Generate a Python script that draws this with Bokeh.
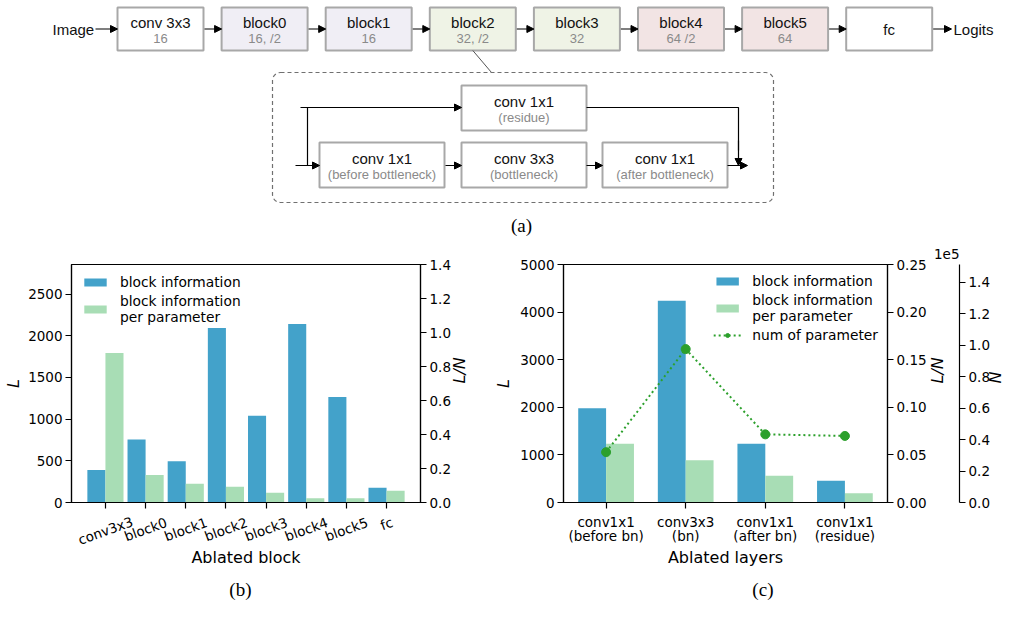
import math
from bokeh.plotting import figure
from bokeh.models import (Range1d, LinearAxis, FixedTicker, PrintfTickFormatter,
                          CustomJSTickFormatter, Legend, LegendItem, Arrow,
                          NormalHead, BoxAnnotation, ColumnDataSource)
from bokeh.layouts import column, row
from bokeh.embed import file_html
from bokeh.resources import INLINE
from bokeh.core.properties import value

# ---------------- data ----------------
diagram_titles = ["conv 3x3", "block0", "block1", "block2", "block3", "block4", "block5", "fc"]
diagram_subs = ["16", "16, /2", "16", "32, /2", "32", "64 /2", "64", ""]
diagram_fills = ["#ffffff", "#f0eef5", "#f0eef5", "#eff3e6", "#eff3e6", "#f2e4e4", "#f2e4e4", "#ffffff"]
inner_titles = ["conv 1x1", "conv 3x3", "conv 1x1", "conv 1x1"]
inner_subs = ["(before bottleneck)", "(bottleneck)", "(after bottleneck)", "(residue)"]

blocks = ["conv3x3", "block0", "block1", "block2", "block3", "block4", "block5", "fc"]
block_info = [390, 756, 496, 2092, 1040, 2140, 1265, 177]
block_info_per_param = [0.88, 0.162, 0.110, 0.092, 0.058, 0.025, 0.025, 0.069]

layer_names = ["conv1x1", "conv3x3", "conv1x1", "conv1x1"]
layer_notes = ["(before bn)", "(bn)", "(after bn)", "(residue)"]
layer_info = [1980, 4236, 1236, 457]
layer_info_per_param = [0.0618, 0.0444, 0.0281, 0.0098]
layer_num_params = [32000, 97500, 43300, 42300]

BLUE = "#43a2ca"
GREEN = "#a8ddb5"
DOT = "#2ca02c"
TICK_FONT = "DejaVu Sans"
TICK_SIZE = "13.5px"
LEG_SIZE = "13.8px"
SANS = value("Liberation Sans")
SERIF = value("Liberation Serif")

# ---------------- diagram (a) ----------------
diag = figure(width=1017, height=236, x_range=Range1d(0, 1017), y_range=Range1d(236, 0),
              toolbar_location=None, output_backend="svg", min_border=0,
              x_axis_location=None, y_axis_location=None, outline_line_color=None)
diag.grid.visible = False

BW, BH, PITCH, X0, TOP = 86, 43, 104.1, 117, 7
lefts = [X0 + i * PITCH for i in range(len(diagram_titles))]
diag.quad(left=lefts, right=[l + BW for l in lefts], top=[TOP] * len(lefts),
          bottom=[TOP + BH] * len(lefts), fill_color=diagram_fills,
          line_color="#a8a8a8", line_width=2)
cx = [l + BW / 2 for l in lefts]
with_sub = [i for i, s in enumerate(diagram_subs) if s]
no_sub = [i for i, s in enumerate(diagram_subs) if not s]
diag.text(x=[cx[i] for i in with_sub], y=[TOP + 15] * len(with_sub),
          text=[diagram_titles[i] for i in with_sub], text_font=SANS,
          text_font_size="15px", text_align="center", text_baseline="middle",
          text_color="#111111")
diag.text(x=[cx[i] for i in with_sub], y=[TOP + 31] * len(with_sub),
          text=[diagram_subs[i] for i in with_sub], text_font=SANS,
          text_font_size="13px", text_align="center", text_baseline="middle",
          text_color="#8a8a8a")
diag.text(x=[cx[i] for i in no_sub], y=[TOP + BH / 2] * len(no_sub),
          text=[diagram_titles[i] for i in no_sub], text_font=SANS,
          text_font_size="15px", text_align="center", text_baseline="middle",
          text_color="#111111")
MIDY = TOP + BH / 2
diag.text(x=[52], y=[MIDY], text=["Image"], text_font=SANS,
          text_font_size="15px", text_align="left", text_baseline="middle", text_color="#111111")
diag.text(x=[953], y=[MIDY], text=["Logits"], text_font=SANS,
          text_font_size="15px", text_align="left", text_baseline="middle", text_color="#111111")

ax0 = [95] + [l + BW + 1 for l in lefts]
ax1 = lefts + [951]
head = dict(size=7, line_color="black", fill_color="black", line_width=1)
diag.add_layout(Arrow(end=NormalHead(**head), line_width=1.2, line_color="black",
                      source=ColumnDataSource(dict(x0=ax0, x1=ax1, y0=[MIDY] * len(ax0), y1=[MIDY] * len(ax0))),
                      x_start="x0", y_start="y0", x_end="x1", y_end="y1"))

diag.line(x=[lefts[3] + 43, 491], y=[TOP + BH, 72], line_color="#555555", line_width=1)
diag.add_layout(BoxAnnotation(left=272, right=773, top=72, bottom=202, fill_alpha=0,
                              line_color="#707070", line_alpha=1.0, line_dash="4 3", line_width=1.2,
                              border_radius=8))

IW, IH = 125, 45
inner_left = [319, 461, 602, 461]
inner_top = [142, 142, 142, 85]
diag.quad(left=inner_left, right=[l + IW for l in inner_left], top=inner_top,
          bottom=[t + IH for t in inner_top], fill_color="#ffffff", line_color="#a8a8a8", line_width=2)
icx = [l + IW / 2 for l in inner_left]
diag.text(x=icx, y=[t + 16 for t in inner_top], text=inner_titles, text_font=SANS,
          text_font_size="15px", text_align="center", text_baseline="middle", text_color="#111111")
diag.text(x=icx, y=[t + 32 for t in inner_top], text=inner_subs, text_font=SANS,
          text_font_size="13px", text_align="center", text_baseline="middle", text_color="#8a8a8a")
RY = 107
MY = 165
diag.multi_line(xs=[[307, 307, 440], [586, 738, 738]], ys=[[MY, RY, RY], [RY, RY, 150]],
                line_color="black", line_width=1.2)
ia0 = [295, 445, 586, 727, 300, 738]
ia1 = [319, 461, 602, 747, 461, 738]
iy0 = [MY, MY, MY, MY, RY, 140]
iy1 = [MY, MY, MY, MY, RY, MY]
diag.add_layout(Arrow(end=NormalHead(**head), line_width=1.2, line_color="black",
                      source=ColumnDataSource(dict(x0=ia0, x1=ia1, y0=iy0, y1=iy1)),
                      x_start="x0", y_start="y0", x_end="x1", y_end="y1"))
diag.text(x=[521], y=[225], text=["(a)"], text_font=SERIF,
          text_font_size="19px", text_align="center", text_baseline="middle", text_color="black")


def style_axis(ax, label=""):
    ax.axis_line_color = "black"
    ax.axis_line_width = 1.2
    ax.major_tick_line_color = "black"
    ax.major_tick_line_width = 1.2
    ax.major_tick_out = 6
    ax.major_tick_in = 0
    ax.minor_tick_line_color = None
    ax.major_label_text_font = TICK_FONT
    ax.major_label_text_font_size = TICK_SIZE
    ax.major_label_text_color = "black"
    ax.major_label_standoff = 3
    ax.axis_label = label
    ax.axis_label_text_font = TICK_FONT
    ax.axis_label_text_font_size = "16px"
    ax.axis_label_text_font_style = "italic"
    ax.axis_label_text_color = "black"


def flip_label(ax):
    try:
        ax.axis_label_orientation = math.pi / 2
    except Exception:
        pass


CH = 276            # chart figure height
UH = 89             # under-figure (tick labels, axis title, caption) height
MB_TOP, MB_BOT = 28, 10


def base_fig(width, xr, yr, ml, mr):
    p = figure(width=width, height=CH, x_range=xr, y_range=yr, toolbar_location=None,
               output_backend="svg", min_border_left=ml, min_border_right=mr,
               min_border_top=MB_TOP, min_border_bottom=MB_BOT)
    p.grid.visible = False
    p.outline_line_color = "black"
    p.outline_line_width = 1.2
    xa = p.xaxis[0]
    style_axis(xa)
    xa.formatter = CustomJSTickFormatter(code="return ''")
    xa.major_label_text_font_size = "0px"
    xa.major_label_standoff = 0
    return p


def under_fig(width, xr, ml, mr):
    u = figure(width=width, height=UH, x_range=xr, y_range=Range1d(-(UH + MB_BOT), -MB_BOT),
               toolbar_location=None, output_backend="svg", min_border_left=ml,
               min_border_right=mr, min_border_top=0, min_border_bottom=0,
               x_axis_location=None, y_axis_location=None, outline_line_color=None)
    u.grid.visible = False
    return u


def legend_for(p, items, loc, margin, padding):
    lg = Legend(items=items, location=loc, margin=margin, padding=padding,
                glyph_width=28, glyph_height=10, label_standoff=11, label_height=16,
                spacing=3, label_text_font=TICK_FONT, label_text_font_size=LEG_SIZE,
                label_text_color="black", border_line_color=None, background_fill_alpha=0)
    p.add_layout(lg)


# ---------------- chart (b) ----------------
XB = list(range(len(blocks)))
WB = 0.45
WB_FIG, MLB, MRB = 486, 71, 66
xr_b = Range1d(-0.845, len(blocks) - 1 + 0.845)
pb = base_fig(WB_FIG, xr_b, Range1d(0, 2855), MLB, MRB)
pb.extra_y_ranges = {"ln": Range1d(0, 1.4)}
rb1 = pb.vbar(x=[i - WB / 2 for i in XB], top=block_info, width=WB, fill_color=BLUE, line_color=None)
rb2 = pb.vbar(x=[i + WB / 2 for i in XB], top=block_info_per_param, width=WB, fill_color=GREEN,
              line_color=None, y_range_name="ln")
pb.xaxis[0].ticker = FixedTicker(ticks=XB)
ya = pb.yaxis[0]
style_axis(ya, "L")
ya.ticker = FixedTicker(ticks=[0, 500, 1000, 1500, 2000, 2500])
ya.axis_label_standoff = 2
rb_ax = LinearAxis(y_range_name="ln", ticker=FixedTicker(ticks=[round(0.2 * k, 1) for k in range(8)]),
                   formatter=PrintfTickFormatter(format="%.1f"))
style_axis(rb_ax, "L/N")
rb_ax.axis_label_standoff = 6
flip_label(rb_ax)
pb.add_layout(rb_ax, "right")
legend_for(pb, [LegendItem(label="block information", renderers=[rb1]),
                LegendItem(label="block information\nper parameter", renderers=[rb2])],
           "top_left", 10, 7)

ub = under_fig(WB_FIG, xr_b, MLB, MRB)
SIN, COS = math.sin(math.radians(20)), math.cos(math.radians(20))
depths = [11 + (len(n) * 0.6 * 13.5 * SIN + 15.7 * COS) / 2 for n in blocks]
ub.text(x=XB, y=[-d for d in depths], text=blocks, angle=20, angle_units="deg",
        text_align="center", text_baseline="middle", text_font=value(TICK_FONT),
        text_font_size=TICK_SIZE, text_color="black")
ub.text(x=[(len(blocks) - 1) / 2], y=[-55], text=["Ablated block"], text_align="center",
        text_baseline="middle", text_font=value(TICK_FONT), text_font_size="16px", text_color="black")
ub.text(x=[(len(blocks) - 1) / 2 - 0.14], y=[-87], text=["(b)"], text_align="center",
        text_baseline="middle", text_font=SERIF, text_font_size="19px", text_color="black")

# ---------------- chart (c) ----------------
XC = list(range(len(layer_names)))
WC = 0.35
WC_FIG, MLC, MRC = 1017 - WB_FIG, 77, 117
xlo, xhi = -0.535, len(layer_names) - 1 + 0.535
xr_c = Range1d(xlo, xhi)
pc = base_fig(WC_FIG, xr_c, Range1d(0, 5000), MLC, MRC)
pc.extra_y_ranges = {"ln": Range1d(0, 0.25), "n": Range1d(0, 1.5125)}
rc1 = pc.vbar(x=[i - WC / 2 for i in XC], top=layer_info, width=WC, fill_color=BLUE, line_color=None)
rc2 = pc.vbar(x=[i + WC / 2 for i in XC], top=layer_info_per_param, width=WC, fill_color=GREEN,
              line_color=None, y_range_name="ln")
nvals = [n / 1e5 for n in layer_num_params]
rc3 = pc.line(x=XC, y=nvals, line_color=DOT, line_dash="2 3", line_width=2, y_range_name="n")
rc4 = pc.scatter(x=XC, y=nvals, size=9, fill_color=DOT, line_color=DOT, y_range_name="n")
pc.xaxis[0].ticker = FixedTicker(ticks=XC)
ya = pc.yaxis[0]
style_axis(ya, "L")
ya.ticker = FixedTicker(ticks=[0, 1000, 2000, 3000, 4000, 5000])
ya.axis_label_standoff = 4
rc_ax = LinearAxis(y_range_name="ln", ticker=FixedTicker(ticks=[round(0.05 * k, 2) for k in range(6)]),
                   formatter=PrintfTickFormatter(format="%.2f"))
style_axis(rc_ax, "L/N")
rc_ax.axis_label_standoff = 8
flip_label(rc_ax)
pc.add_layout(rc_ax, "right")
n_ax = LinearAxis(y_range_name="n", ticker=FixedTicker(ticks=[round(0.2 * k, 1) for k in range(8)]),
                  formatter=PrintfTickFormatter(format="%.1f"))
style_axis(n_ax, "N")
n_ax.axis_label_standoff = 3
flip_label(n_ax)
pc.add_layout(n_ax, "right")
# scale factor text of the N axis
pc.title.text = "1e5"
pc.title.align = "right"
pc.title.offset = -72
pc.title.standoff = 12
pc.title.text_font = TICK_FONT
pc.title.text_font_size = TICK_SIZE
pc.title.text_font_style = "normal"
pc.title.text_color = "black"
legend_for(pc, [LegendItem(label="block information", renderers=[rc1]),
                LegendItem(label="block information\nper parameter", renderers=[rc2]),
                LegendItem(label="num of parameter", renderers=[rc3, rc4])],
           "top_right", 9, 0)

uc = under_fig(WC_FIG, xr_c, MLC, MRC)
uc.text(x=XC, y=[-19] * len(XC), text=layer_names, text_align="center", text_baseline="middle",
        text_font=value(TICK_FONT), text_font_size=TICK_SIZE, text_color="black")
uc.text(x=XC, y=[-33] * len(XC), text=layer_notes, text_align="center", text_baseline="middle",
        text_font=value(TICK_FONT), text_font_size=TICK_SIZE, text_color="black")
uc.text(x=[(len(layer_names) - 1) / 2], y=[-55], text=["Ablated layers"], text_align="center",
        text_baseline="middle", text_font=value(TICK_FONT), text_font_size="16px", text_color="black")
uc.text(x=[(len(layer_names) - 1) / 2 + 0.47], y=[-87], text=["(c)"], text_align="center",
        text_baseline="middle", text_font=SERIF, text_font_size="19px", text_color="black")

layout = column(diag, row(column(pb, ub), column(pc, uc)))
open("out.html", "w").write(file_html(layout, INLINE))
